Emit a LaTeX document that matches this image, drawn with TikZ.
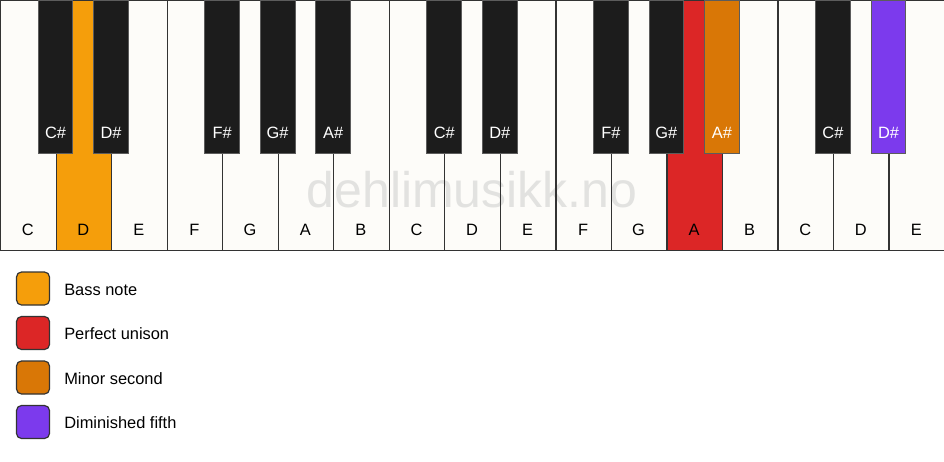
\documentclass[tikz,border=0pt]{standalone}
\usepackage{fontspec}
\setmainfont{Liberation Sans}
\usetikzlibrary{positioning}
\definecolor{keywhite}{HTML}{FDFCF9}
\definecolor{keyblack}{HTML}{1C1C1C}
\definecolor{keyline}{HTML}{333333}
\definecolor{bassnote}{HTML}{F59E0B}
\definecolor{unison}{HTML}{DC2626}
\definecolor{minorsecond}{HTML}{D97706}
\definecolor{dimfifth}{HTML}{7C3AED}
\definecolor{watermark}{HTML}{E2E2E0}
\tikzset{
  every node/.style={font=\fontsize{16.4}{19}\selectfont},
  whitekey/.style={
    rectangle,
    draw=keyline, line width=1.2pt,
    minimum width=55.53pt,
    minimum height=250pt,
    inner sep=0pt,
    anchor=north west},
  blackkey/.style={
    rectangle,
    draw=keyline!80!white, line width=1pt,
    minimum width=34.7pt,
    minimum height=153pt,
    inner sep=0pt,
    anchor=north},
  whitelabel/.style={text=black, inner sep=0pt},
  blacklabel/.style={text=white, inner sep=0pt},
  swatch/.style={
    rectangle,
    rounded corners=5pt,
    draw=keyline, line width=1.2pt,
    minimum size=33pt,
    inner sep=0pt},
  legendtext/.style={anchor=west, inner sep=0pt, text=black},
}

\begin{document}
\begin{tikzpicture}[x=1pt, y=-1pt]
  \useasboundingbox (0,0) rectangle (944,461);
  % keyboard ground and watermark
  \fill[keywhite] (0,0) rectangle (944,250);
  \node[font=\fontsize{50}{54}\selectfont, text=watermark, anchor=base,
    inner sep=0pt] (mark) at (472,207) {dehlimusikk.no};
  % white keys
  \foreach \name/\col [count=\i from 0] in {C/none,D/bassnote,E/none,F/none,
      G/none,A/none,B/none,C/none,D/none,E/none,F/none,G/none,A/unison,
      B/none,C/none,D/none,E/none} {
    \node[whitekey, fill=\col] (w\i) at (\i*55.53,0) {};
    \node[whitelabel] (wl\i) at (\i*55.53+27.76,230) {\name};
  }
  % black keys
  \foreach \b/\name/\col in {1/C\#/keyblack, 2/D\#/keyblack, 4/F\#/keyblack,
      5/G\#/keyblack, 6/A\#/keyblack, 8/C\#/keyblack, 9/D\#/keyblack,
      11/F\#/keyblack, 12/G\#/keyblack, 13/A\#/minorsecond,
      15/C\#/keyblack, 16/D\#/dimfifth} {
    \node[blackkey, fill=\col] (b\b) at (\b*55.53,0) {};
    \node[blacklabel] (bl\b) at (\b*55.53,133) {\name};
  }
  % legend
  \node[swatch, fill=bassnote] (bass) at (33,288.5) {};
  \node[swatch, fill=unison, below=10.3pt of bass] (uni) {};
  \node[swatch, fill=minorsecond, below=10.3pt of uni] (minsec) {};
  \node[swatch, fill=dimfifth, below=10.3pt of minsec] (dimf) {};
  \node[legendtext, right=14pt of bass, yshift=-1.5pt] (bassl) {Bass note};
  \node[legendtext, right=14pt of uni, yshift=-1pt] (unil) {Perfect unison};
  \node[legendtext, right=14pt of minsec, yshift=-1pt] (minsecl) {Minor second};
  \node[legendtext, right=14pt of dimf, yshift=-1pt] (dimfl) {Diminished fifth};
\end{tikzpicture}
\end{document}
